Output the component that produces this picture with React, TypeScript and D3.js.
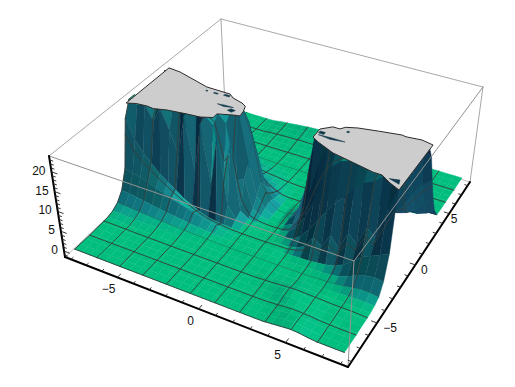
import React, { useMemo } from "react";
import * as d3 from "d3";

const xyDomain = [-8.4, 8.4];
const zDomain = [-1.5, 24];
const gridValues = d3.range(-8, 8.01, 0.5);
const meshX = d3.range(0, 12).map(k => -8 + k * 16 / 11);
const meshY = d3.range(0, 13).map(k => -8 + k * 16 / 12);
const xTicks = d3.range(-8, 9);
const yTicks = d3.range(-8, 9);
const zTicks = d3.range(-1, 24);
const xLabels = [-5, 0, 5];
const yLabels = [-5, 0, 5];
const zLabels = [0, 5, 10, 15, 20];

// heights: one row per y (-8 ... 8, step .5), one value per x (-8 ... 8, step .5)
const heightRows = [
/*-8.0*/[0,0,0,0,0,0,0,0,0,0,0,0,0,0,0,0,0,0,0,0,0,0,0,0,.2,.4,.6,.5,.2,0,0,0,0],
/*-7.5*/[0,0,0,0,0,0,0,0,0,0,0,0,0,0,0,0,0,0,0,0,0,0,0,.1,.2,.5,.7,.5,.2,0,0,0,0],
/*-7.0*/[0,0,0,0,0,0,0,0,0,0,0,0,0,0,0,0,0,0,0,0,0,0,0,.1,.3,.5,.6,.5,.3,.1,0,0,0],
/*-6.5*/[0,0,0,0,0,0,0,0,0,0,0,0,0,0,0,0,0,0,0,0,0,0,.1,.2,.4,.5,.4,.3,.1,.1,0,0,0],
/*-6.0*/[.1,.1,0,0,0,0,0,0,0,0,0,0,0,0,0,0,0,0,0,0,0,.1,.2,.5,.7,.6,.4,.3,.2,.2,.1,.1,.1],
/*-5.5*/[.1,.1,.1,.1,0,0,0,0,0,0,0,0,0,0,0,0,0,0,0,0,.1,.2,.4,.6,.7,.6,.5,.4,.3,.3,.3,.2,.1],
/*-5.0*/[.2,.2,.15,.1,.1,.1,.1,.1,0,0,0,0,0,0,0,0,0,0,0,0,.1,.1,.2,.3,.4,.4,.4,.4,.3,.3,.3,.3,.2],
/*-4.5*/[.6,.6,.5,.45,.4,.35,.3,.25,.2,.15,.1,.1,.1,.05,0,0,0,.05,.1,.1,.1,.1,.1,.1,.2,.2,.2,.3,.4,.5,.6,.6,.5],
/*-4.0*/[1.5,1.4,1.2,1.1,.9,.8,.7,.6,.5,.4,.3,.25,.2,.1,.1,.1,.1,.1,.1,.1,.1,.1,.1,.2,.2,.3,.4,.5,.8,1.2,1.5,1.5,1.2],
/*-3.5*/[3.5,3.3,3,2.7,2.3,2,1.7,1.5,1.2,1,.8,.6,.4,.3,.2,.2,.2,.2,.2,.2,.1,.1,.2,.3,.4,.5,.7,1,1.8,2.8,3.5,3.8,3.5],
/*-3.0*/[8,7.5,7,6.3,5.5,4.8,4,3.5,3,2.4,1.9,1.5,1,.6,.4,.3,.3,.3,.3,.3,.2,.3,.4,.5,.7,1,1.5,2.5,4,6,7,8,9],
/*-2.5*/[20,15,12,10,8,6.5,5,3.5,2.5,1.5,.8,.5,.3,.2,.2,.2,.2,.2,.3,.4,.5,1,2,5,3.5,7,4.5,9,7,12,10,17,24],
/*-2.0*/[24,23,24,20,24,19,13,24,10,23,8,21,4,1.2,.4,.2,.1,.1,.2,.5,1.2,2.5,5,8,11,14,16,19,21,22,24,24,24],
/*-1.5*/[24,24,24,24,24,24,24,24,24,24,22,9,19,2,.6,.3,.2,.2,.3,.8,3,6,11,16,21,23,24,24,24,24,24,24,24],
/*-1.0*/[24,24,24,24,24,24,24,24,24,24,24,22,8,9,2,.8,.3,.3,.5,1.5,5,11,19,24,24,24,24,24,24,24,24,24,24],
/*-0.5*/[24,24,24,24,24,24,24,24,24,24,24,24,24,12,4,1.5,.4,.3,.8,3,10,24,24,24,24,24,24,24,24,24,24,24,24],
/* 0.0*/[24,24,24,24,24,24,24,24,24,24,24,24,24,17,6.5,2,.5,.3,.8,3,10,24,24,24,24,24,24,24,24,24,24,24,24],
/* 0.5*/[24,24,24,24,24,24,24,24,24,24,24,24,20,12,4,1.5,.5,.4,.8,2.5,9,20,24,24,24,24,24,24,24,24,24,24,24],
/* 1.0*/[24,24,24,24,24,24,24,24,24,24,18,12,8,5,2.5,1,.5,.5,.6,1,4,10,20,24,24,24,24,24,24,24,24,24,24],
/* 1.5*/[24,24,24,24,20,17,14,12,10,8,6,4.5,3,2,1.2,.6,.4,.4,.4,.6,2,5,9,13,18,21,24,24,24,24,24,24,24],
/* 2.0*/[18,17,15,12,10,8.5,7,6,5,4,3,2.3,1.7,1.2,.8,.5,.3,.3,.3,.4,1,2.5,4,6,8,10,12,13,15,18,20,22,20],
/* 2.5*/[10,9,8,7,6,5,4,3.5,3,2.4,1.9,1.4,1,.8,.5,.3,.2,.2,.2,.3,.4,.8,1.5,2,2.5,3,3,2.5,2,4,8,11,13],
/* 3.0*/[6,5.5,5,4.5,4,3.4,2.8,2.3,1.9,1.6,1.2,.9,.6,.5,.3,.2,.1,.1,.1,.2,.2,.3,.4,.5,.6,.8,.8,.7,.5,1.2,2.5,5,7],
/* 3.5*/[3,2.8,2.5,2.2,2,1.7,1.4,1.1,.9,.7,.5,.4,.3,.2,.2,.1,.1,.1,.1,.1,.1,.1,.2,.2,.2,.3,.3,.2,.2,.2,.4,1.2,2.5],
/* 4.0*/[1,1,.9,.8,.7,.6,.5,.4,.3,.3,.2,.2,.1,.1,.1,.1,.1,.1,.1,.1,.1,.1,.1,.1,.1,.1,.1,.1,.1,.1,.1,.1,.2],
/* 4.5*/[.4,.4,.3,.3,.3,.2,.2,.2,.1,.1,.1,.1,.1,.1,.1,.1,.1,.1,.1,.1,.1,.1,.1,.1,.1,.1,.1,.1,.1,.1,.1,.1,.1],
/* 5.0*/[.2,.2,.1,.1,.1,.1,.1,.1,.1,.1,.1,.1,.1,.1,.1,.1,.1,.1,.1,.1,.1,.1,.1,.1,.1,.1,.1,.1,.1,.1,.1,.1,.1],
/* 5.5*/[.1,.1,.1,.1,.1,.1,.1,.1,.1,.1,.1,.1,.2,.2,.2,.2,.2,.2,.2,.2,.2,.1,.1,.1,.1,.1,.1,.1,.1,.1,.1,.1,.1],
/* 6.0*/[.1,.1,.1,.1,.1,.1,.1,.1,.2,.2,.2,.3,.3,.3,.3,.3,.3,.3,.3,.3,.3,.2,.2,.2,.1,.1,.1,.1,.1,.1,.1,.1,.1],
/* 6.5*/[0,0,0,0,0,0,0,0,.2,.3,.4,.4,.5,.5,.5,.5,.5,.5,.5,.4,.4,.3,.3,.2,.1,.1,0,0,0,0,0,0,0],
/* 7.0*/[0,0,0,0,0,0,0,.1,.3,.4,.5,.6,.7,.7,.7,.7,.7,.7,.7,.6,.5,.4,.3,.2,.1,.1,0,0,0,0,0,0,0],
/* 7.5*/[0,0,0,0,0,0,0,.1,.3,.5,.6,.8,.9,1,1,1,1,1,.9,.8,.7,.5,.4,.3,.1,.1,0,0,0,0,0,0,0],
/* 8.0*/[0,0,0,0,0,0,0,.1,.4,.6,.8,1,1.2,1.3,1.3,1.3,1.3,1.3,1.2,1,.8,.6,.4,.3,.2,.1,0,0,0,0,0,0,0],
];

// clipped tops, as x/y data outlines
const plateauLeftX = [-7.9,-7.4,-6.74,-6.3,-5.58,-4.43,-3.67,-3.04,-3.04,-2.24,-1.87,-1.94,-2.1,-2.42,-3.1,-3.46,-4.95,-7.13,-7.93];
const plateauLeftY = [-2.42,-2.2,-2.13,-2.18,-1.95,-1.77,-1.69,-1.4,-1.0,-.69,-.59,-.1,.38,.58,.79,1.07,1.1,1.77,1.85];
const plateauRightX = [2.4,2.9,3.3,3.5,4.09,5.2,6.35,6.6,7.43,8.09,8.08,7.48,6.87,6.4,5.12,3.95,2.85,2.42];
const plateauRightY = [.32,.81,.82,1.1,1.35,1.6,1.84,1.78,1.9,1.75,-2.63,-2.31,-1.89,-1.88,-1.59,-1.34,-.81,-.53];
// holes and slits in the clipped tops: [x, y] outlines
const topHoles = [
  [[-4.8,.73],[-4.7,.73],[-4.7,.8],[-4.8,.8]],
  [[-4.3,.72],[-4.05,.72],[-4.05,.82],[-4.3,.82]],
  [[-3.7,.78],[-3.35,.78],[-3.35,.92],[-3.7,.92]],
  [[-3.55,-.12],[-3.1,-.2],[-2.59,-.04],[-3.1,-.04]],
  [[-2.75,-.42],[-2.45,-.5],[-2.35,-.25],[-2.65,-.2]],
  [[2.56,-.2],[3.3,-.3],[4.06,-.15],[3.3,-.14]],
  [[2.5,-.05],[2.8,-.05],[2.8,.15],[2.5,.15]],
  [[3.74,.7],[3.86,.7],[3.86,.82],[3.74,.82]],
  [[7.3,-2.0],[7.9,-2.2],[7.8,-1.85]],
];

const W = 515;
const H = 387;
const cornersBottom = [[65,257],[348,367],[470,182],[225,107]];
const cornersTop = [[49,156],[354,261],[483,87],[221,19]];

function homography(q: number[][]) {
  const [[x0,y0],[x1,y1],[x2,y2],[x3,y3]] = q;
  const sx = x0-x1+x2-x3, sy = y0-y1+y2-y3;
  const dx1 = x1-x2, dx2 = x3-x2, dy1 = y1-y2, dy2 = y3-y2;
  const det = dx1*dy2-dx2*dy1;
  const g = (sx*dy2-dx2*sy)/det, h = (dx1*sy-sx*dy1)/det;
  const a = x1-x0+g*x1, b = x3-x0+h*x3, d = y1-y0+g*y1, e = y3-y0+h*y3;
  return (u: number, v: number) => {
    const w = g*u+h*v+1;
    return [(a*u+b*v+x0)/w, (d*u+e*v+y0)/w];
  };
}
const hBottom = homography(cornersBottom);
const hTop = homography(cornersTop);
const sXY = d3.scaleLinear().domain(xyDomain).range([0,1]);
const sZ = d3.scaleLinear().domain(zDomain).range([0,1]);

function project(x: number, y: number, z: number) {
  const u = sXY(x), v = sXY(y), t = sZ(z);
  const b = hBottom(u,v), p = hTop(u,v);
  return [b[0]+(p[0]-b[0])*t, b[1]+(p[1]-b[1])*t];
}
const pts = (list: number[][]) => list.map(p => p[0].toFixed(1)+","+p[1].toFixed(1)).join(" ");

const view = [0.5,-0.6,0.55];
const zFactor = 0.5;
function shade(n: number[]) {
  const len = Math.hypot(n[0],n[1],n[2]) || 1;
  let [nx,ny,nz] = [n[0]/len,n[1]/len,n[2]/len];
  if (nx*view[0]+ny*view[1]+nz*view[2] < 0) { nx=-nx; ny=-ny; nz=-nz; }
  const up = nz > 0 ? Math.pow(nz, 1.4) : nz * 0.3;
  const bump = nz > 0.3 ? ((nz-0.3)/0.7)*(1-nz)*4 : 0;
  const c = [
    14 + 10*nx - 14*up + 10*bump,
    64 + 44*nx + 126*up,
    86 + 40*nx + 39*up + 36*bump,
  ].map(v => Math.max(0, Math.min(255, Math.round(v))));
  return `rgb(${c[0]},${c[1]},${c[2]})`;
}

function Surface() {
  const items = useMemo(() => {
    const out: React.ReactNode[] = [];
    const n = gridValues.length;
    for (let j = n-2; j >= 0; j--) {
      for (let i = 0; i < n-1; i++) {
        const z00 = heightRows[j][i], z10 = heightRows[j][i+1], z11 = heightRows[j+1][i+1], z01 = heightRows[j+1][i];
        if (Math.min(z00,z10,z11,z01) >= 23.9) continue;
        const x0 = gridValues[i], x1 = gridValues[i+1], y0 = gridValues[j], y1 = gridValues[j+1];
        const p00 = project(x0,y0,z00), p10 = project(x1,y0,z10), p11 = project(x1,y1,z11), p01 = project(x0,y1,z01);
        const d1 = [x1-x0, y1-y0, (z11-z00)*zFactor], d2 = [x0-x1, y1-y0, (z01-z10)*zFactor];
        const normal = [d1[1]*d2[2]-d1[2]*d2[1], d1[2]*d2[0]-d1[0]*d2[2], d1[0]*d2[1]-d1[1]*d2[0]];
        const fill = shade(normal);
        out.push(<polygon key={`q${i}-${j}`} points={pts([p00,p10,p11,p01])} fill={fill} stroke={fill} strokeWidth={0.4} strokeLinejoin="round"/>);
        const segs: number[][][] = [];
        meshX.forEach(m => {
          if (m >= x0 - 1e-6 && m < x1) {
            const t = (m-x0)/(x1-x0);
            segs.push([project(m,y0,z00+(z10-z00)*t), project(m,y1,z01+(z11-z01)*t)]);
          }
        });
        meshY.forEach(m => {
          if (m >= y0 - 1e-6 && m < y1) {
            const t = (m-y0)/(y1-y0);
            segs.push([project(x0,m,z00+(z01-z00)*t), project(x1,m,z10+(z11-z10)*t)]);
          }
        });
        segs.forEach((s,k) => out.push(
          <line key={`m${i}-${j}-${k}`} x1={s[0][0]} y1={s[0][1]} x2={s[1][0]} y2={s[1][1]} stroke="#333d3a" strokeWidth={0.9} strokeLinecap="round"/>
        ));
      }
    }
    return out;
  }, []);
  return <g>{items}</g>;
}

export default function App() {
  const [lo, hi] = xyDomain;
  const [zl, zh] = zDomain;
  const box = (a: number[], b: number[], stroke: string, w: number, key: string) => {
    const p = project(a[0],a[1],a[2]), q = project(b[0],b[1],b[2]);
    return <line key={key} x1={p[0]} y1={p[1]} x2={q[0]} y2={q[1]} stroke={stroke} strokeWidth={w} strokeLinecap="round"/>;
  };
  const grey = "#a8a8a8", front = "#929292";
  const outline = (xs: number[], ys: number[]) => pts(xs.map((x,i) => project(x, ys[i], zh)));
  const fontFamily = "'Liberation Sans', Arial, sans-serif";
  return (
    <svg width={W} height={H} viewBox={`0 0 ${W} ${H}`} style={{position:"absolute",left:0,top:0,background:"#fff"}}>
      {box([lo,hi,zh],[hi,hi,zh],grey,1,"b1")}
      {box([lo,hi,zh],[lo,lo,zh],grey,1,"b2")}
      {box([lo,hi,zh],[lo,hi,zl],grey,1,"b3")}
      {box([hi,hi,zh],[hi,hi,zl],grey,1,"b4")}
      {box([lo,lo,zl],[lo,hi,zl],"#bdbdbd",1,"b5")}
      {box([lo,hi,zl],[hi,hi,zl],"#bdbdbd",1,"b6")}
      <Surface/>
      <polygon points={outline(plateauLeftX,plateauLeftY)} fill="#cdcdcd" stroke="#2b2b2b" strokeWidth={1} strokeLinejoin="round"/>
      <polygon points={outline(plateauRightX,plateauRightY)} fill="#cdcdcd" stroke="#2b2b2b" strokeWidth={1} strokeLinejoin="round"/>
      {topHoles.map((h,i) => <polygon key={i} points={pts(h.map(p => project(p[0],p[1],zh)))} fill="#10384a" stroke="#10384a" strokeWidth={0.5}/>)}
      {box([lo,lo,zh],[hi,lo,zh],front,1,"f1")}
      {box([hi,lo,zh],[hi,hi,zh],front,1,"f2")}
      {box([hi,lo,zh],[hi,lo,zl],front,1,"f3")}
      {box([lo,lo,zh],[lo,lo,zl],"#000",2,"a1")}
      {box([lo,lo,zl],[hi,lo,zl],"#000",2,"a2")}
      {box([hi,lo,zl],[hi,hi,zl],"#000",2,"a3")}
      {xTicks.map(t => { const L = t%5===0?0.3:0.18; return box([t,lo,zl],[t,lo+L,zl],"#222",0.9,"tx"+t); })}
      {yTicks.map(t => { const L = t%5===0?0.3:0.18; return box([hi,t,zl],[hi-L,t,zl],"#222",0.9,"ty"+t); })}
      {zTicks.map(t => { const L = t%5===0?0.35:0.2; return box([lo,lo,t],[lo+L,lo,t],"#222",0.9,"tz"+t); })}
      <g fontFamily={fontFamily} fontSize={12} fill="#111">
        {xLabels.map(t => { const p = project(t,lo,zl); return <text key={t} x={p[0]-8-0.4*(t<0?2:0)} y={p[1]+16} textAnchor="middle">{t<0?"\u2212"+(-t):t}</text>; })}
        {yLabels.map(t => { const p = project(hi,t,zl); return <text key={t} x={p[0]+9-0.8*t} y={p[1]+9} textAnchor="middle">{t<0?"\u2212"+(-t):t}</text>; })}
        {zLabels.map(t => { const p = project(lo,lo,t); return <text key={t} x={p[0]-6} y={p[1]+3} textAnchor="end">{t}</text>; })}
      </g>
    </svg>
  );
}
